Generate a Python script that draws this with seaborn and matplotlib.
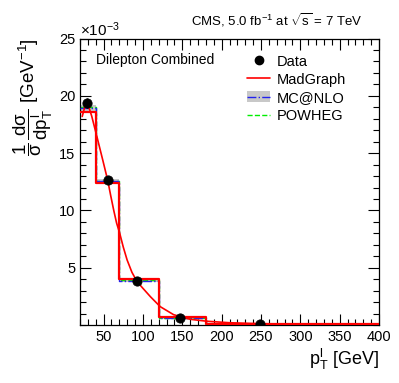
import numpy as np
import pandas as pd
import matplotlib
matplotlib.use('Agg')
import matplotlib.pyplot as plt
import seaborn as sns
from matplotlib.lines import Line2D
from matplotlib.patches import Patch
from matplotlib.ticker import MultipleLocator

# bin edges of the lepton pT distribution [GeV]
bin_edges = [20, 40, 70, 120, 180, 400]

# normalised cross section, in units of 1e-3 GeV^-1
data_x = [29.5, 55.3, 92.6, 147.5, 249.0]
data_y = [19.35, 12.65, 3.8, 0.65, 0.05]
data_err = [0.45, 0.25, 0.15, 0.06, 0.02]

madgraph = [18.6, 12.4, 4.02, 0.72, 0.08]
mcatnlo = [18.9, 12.55, 3.86, 0.6, 0.07]
mcatnlo_unc = [0.3, 0.2, 0.1, 0.05, 0.02]
powheg = [19.0, 12.6, 3.9, 0.62, 0.07]

# smooth MadGraph curve
curve_x = [22.8, 26.0, 29.5, 35.0, 42.0, 48.9, 55.3, 59.0, 62.9, 66.5, 70.5, 75.0, 79.9, 86.0, 92.6,
           100.0, 109.5, 122.0, 139.0, 160.0, 181.0, 210.0, 236.0, 270.0, 300.0, 350.0, 400.0]
curve_y = [18.2, 19.0, 19.4, 18.2, 16.3, 14.4, 12.6, 11.3, 10.0, 8.9, 8.0, 6.8, 5.67, 4.6, 3.78,
           3.2, 2.47, 1.6, 0.9, 0.5, 0.33, 0.2, 0.14, 0.09, 0.07, 0.05, 0.03]

centers = [(a + b) / 2 for a, b in zip(bin_edges[:-1], bin_edges[1:])]

sns.set_style('ticks')
plt.rcParams['font.family'] = ['Liberation Sans', 'DejaVu Sans']
plt.rcParams['mathtext.fontset'] = 'custom'
plt.rcParams['mathtext.rm'] = 'Liberation Sans'
plt.rcParams['mathtext.it'] = 'Liberation Sans'
plt.rcParams['mathtext.bf'] = 'Liberation Sans:bold'
plt.rcParams['text.color'] = 'black'
plt.rcParams['axes.labelcolor'] = 'black'
plt.rcParams['xtick.color'] = 'black'
plt.rcParams['ytick.color'] = 'black'

fig = plt.figure(figsize=(3.99, 3.83), dpi=100)
ax = fig.add_axes([0.2005, 0.1514, 0.7494, 0.748])

# MC@NLO uncertainty band
lo = np.array(mcatnlo) - np.array(mcatnlo_unc)
hi = np.array(mcatnlo) + np.array(mcatnlo_unc)
ax.fill_between(bin_edges, np.append(lo, lo[-1]), np.append(hi, hi[-1]),
                step='post', color='#c8c8c8', lw=0, zorder=1)

sns.histplot(x=centers, weights=powheg, bins=bin_edges, element='step', fill=False,
             color='#00ee00', linestyle='--', linewidth=1.0, ax=ax, zorder=2)
sns.histplot(x=centers, weights=mcatnlo, bins=bin_edges, element='step', fill=False,
             color='#2222ee', linestyle='-.', linewidth=1.0, ax=ax, zorder=3)
sns.histplot(x=centers, weights=madgraph, bins=bin_edges, element='step', fill=False,
             color='#ff0000', linewidth=1.6, ax=ax, zorder=4)

curve = pd.DataFrame({'x': curve_x, 'y': curve_y})
sns.lineplot(data=curve, x='x', y='y', color='#ff0000', linewidth=1.2, ax=ax, zorder=5)

ax.errorbar(data_x, data_y, yerr=data_err, fmt='none', ecolor='black', elinewidth=1.0, zorder=6)
sns.scatterplot(x=data_x, y=data_y, color='black', s=45, edgecolor='black', ax=ax, zorder=7)

ax.set_xlim(20, 400)
ax.set_ylim(0, 25)
ax.xaxis.set_minor_locator(MultipleLocator(10))
ax.yaxis.set_minor_locator(MultipleLocator(1))
ax.set_xticks([50, 100, 150, 200, 250, 300, 350, 400])
ax.set_yticks([5, 10, 15, 20, 25])
ax.tick_params(which='both', direction='in', top=True, right=True, labelsize=10.5, width=0.8)
ax.tick_params(which='major', length=8)
ax.tick_params(which='minor', length=4)
for s in ax.spines.values():
    s.set_linewidth(0.9)
    s.set_color('black')

ax.set_xlabel(r'p$_{\mathrm{T}}^{\mathrm{l}}$ [GeV]', fontsize=13, loc='right', labelpad=2)
ax.set_ylabel(r'$\dfrac{1}{\sigma}\,\dfrac{d\sigma}{dp_{T}^{l}}$ [GeV$^{-1}$]',
              fontsize=13.5, loc='top', labelpad=3)

ax.text(0.0, 1.0, r'$\times10^{-3}$', transform=ax.transAxes, fontsize=11, ha='left', va='bottom')
ax.text(0.946, 1.065, r'CMS, 5.0 fb$^{-1}$ at $\sqrt{s}$ = 7 TeV', transform=ax.transAxes,
        fontsize=9.5, ha='right', va='center')
ax.text(0.055, 0.925, 'Dilepton Combined', transform=ax.transAxes, fontsize=10, ha='left', va='center')

handles = [
    Line2D([], [], marker='o', color='black', linestyle='none', markersize=6),
    Line2D([], [], color='#ff0000', linewidth=1.2),
    (Patch(facecolor='#c8c8c8', edgecolor='none'), Line2D([], [], color='#2222ee', linestyle='-.', linewidth=1.0)),
    Line2D([], [], color='#00ee00', linestyle='--', linewidth=1.0),
]
ax.legend(handles, ['Data', 'MadGraph', 'MC@NLO', 'POWHEG'], loc='upper left',
          bbox_to_anchor=(0.515, 0.99), frameon=False, fontsize=10.5,
          handlelength=1.6, handletextpad=0.45, labelspacing=0.28)

fig.savefig('out.png', dpi=100)
